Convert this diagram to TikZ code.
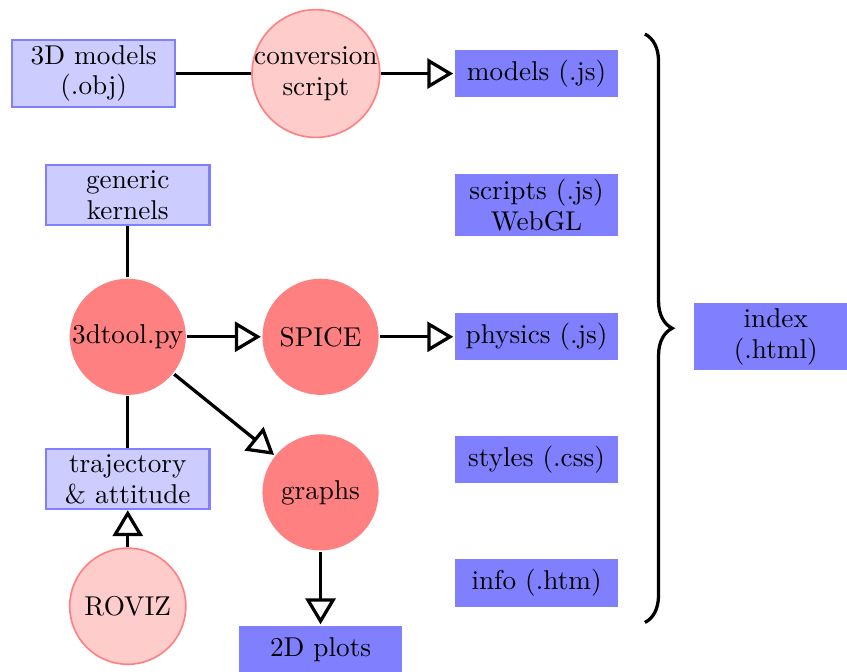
\documentclass[tikz,border=0pt]{standalone}
\usetikzlibrary{arrows.meta,decorations.pathreplacing}

\begin{document}
\begin{tikzpicture}[->,>={Triangle[open,length=9.5pt,width=11pt]},very thick,
	font=\linespread{0.93}\selectfont,
	infile/.style={rectangle,draw=blue!50,fill=blue!20,thick,minimum width=2.11cm,
		minimum height=0.61cm,inner sep=2pt,align=center},
	webfile/.style={rectangle,fill=blue!50,minimum width=2.11cm,minimum height=0.61cm,
		inner sep=2pt,align=center},
	proc/.style={circle,fill=red!50,minimum size=1.5cm,inner sep=0pt,align=center},
	extproc/.style={circle,draw=red!50,fill=red!20,semithick,minimum size=1.5cm,
		inner sep=0pt,align=center}]
	\useasboundingbox (0,0) rectangle (10.94,-8.67);

	\node[infile](obj) at (1.21,-0.95) {3D models\\(.obj)};
	\node[extproc,minimum size=1.65cm,inner sep=-2pt](conv) at (4.08,-0.95) {conversion\\script};
	\node[webfile](models) at (6.93,-0.95) {models (.js)};
	\node[infile](kernels) at (1.65,-2.52) {generic\\kernels};
	\node[webfile](scripts) at (6.93,-2.65) {scripts (.js)\\WebGL};
	\node[proc](tool) at (1.65,-4.35) {3dtool.py};
	\node[proc](spice) at (4.14,-4.35) {SPICE};
	\node[webfile](physics) at (6.93,-4.35) {physics (.js)};
	\node[webfile](index) at (10.02,-4.35) {index\\(.html)};
	\node[infile](traj) at (1.65,-6.19) {trajectory\\\& attitude};
	\node[proc](graphs) at (4.14,-6.36) {graphs};
	\node[webfile](styles) at (6.93,-5.94) {styles (.css)};
	\node[extproc](roviz) at (1.65,-7.83) {ROVIZ};
	\node[webfile](plots) at (4.14,-8.39) {2D plots};
	\node[webfile](info) at (6.93,-7.53) {info (.htm)};

	\path (obj) edge[-] (conv)
		  (conv) edge (models)
		  (kernels) edge[-] (tool)
		  (tool) edge (spice)
			  edge (graphs)
			  edge[-] (traj)
		  (spice) edge (physics)
		  (roviz) edge (traj)
		  (graphs) edge (plots);

	% files bundled into the page
	\coordinate (btop) at (8.33,-0.44);
	\coordinate (bbot) at (8.33,-8.04);
	\draw[-,decorate,decoration={brace,amplitude=10pt}] (btop) -- (bbot);
\end{tikzpicture}
\end{document}
